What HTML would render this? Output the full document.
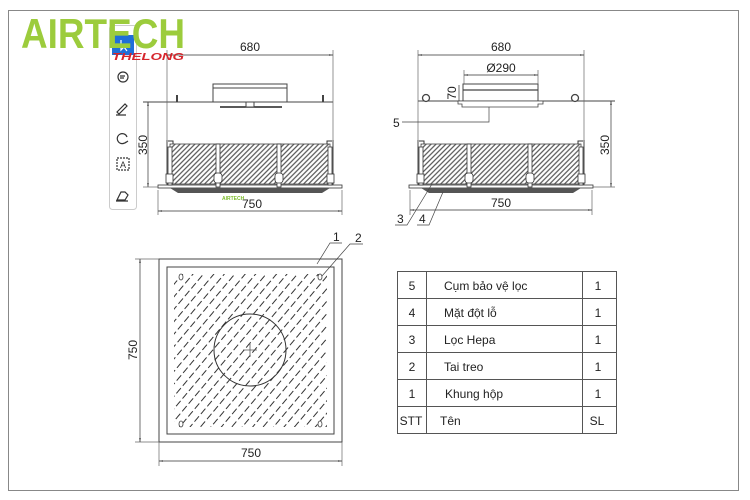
<!DOCTYPE html>
<html><head><meta charset="utf-8"><style>
body{margin:0;background:#fff;}
svg{display:block;font-family:"Liberation Sans",sans-serif;}
.t{font-size:12px;fill:#222;}
</style></head><body>
<svg width="750" height="500" viewBox="0 0 750 500" xmlns="http://www.w3.org/2000/svg">
<defs>
<pattern id="h" width="3.5" height="4" patternUnits="userSpaceOnUse" patternTransform="rotate(45)">
<line x1="1.75" y1="0" x2="1.75" y2="4" stroke="#444" stroke-width="1.1"/>
</pattern>
<pattern id="h2" width="8" height="10" patternUnits="userSpaceOnUse" patternTransform="rotate(40)">
<line x1="4" y1="1" x2="4" y2="8" stroke="#333" stroke-width="1"/>
</pattern>
<marker id="a" viewBox="0 0 10 10" refX="10" refY="5" markerWidth="6" markerHeight="6" orient="auto-start-reverse"><path d="M0,3 L10,5 L0,7z" fill="#333"/></marker>
<g id="body">
<rect x="170" y="144" width="160" height="40" fill="url(#h)" stroke="#444" stroke-width="0.8"/>
<line x1="167" y1="140" x2="167" y2="187" stroke="#444"/>
<line x1="333" y1="140" x2="333" y2="187" stroke="#444"/>
<rect x="158" y="185" width="184" height="3" fill="#fff" stroke="#333" stroke-width="0.8"/>
<path d="M170,188 L330,188 L322,193 L178,193Z" fill="#555"/>
<g fill="#fff" stroke="#333" stroke-width="0.8">
<rect x="168" y="147" width="4" height="38"/><rect x="166" y="174" width="7" height="9"/>
<rect x="328" y="147" width="4" height="38"/><rect x="327" y="174" width="7" height="9"/>
<rect x="216" y="144" width="4" height="43"/><rect x="214" y="173" width="8" height="10" rx="3"/>
<rect x="277" y="144" width="4" height="43"/><rect x="275" y="173" width="8" height="10" rx="3"/>
</g>
<path d="M168,141 h5 v3 M332,141 h-5 v3" fill="none" stroke="#333"/>
</g>
</defs>
<rect x="8.5" y="10.5" width="730" height="480" fill="none" stroke="#888"/>

<!-- left side view -->
<use href="#body"/>
<line x1="143" y1="102" x2="333" y2="102" stroke="#444"/>
<rect x="213" y="84" width="74" height="18" fill="#fff" stroke="#444"/>
<line x1="213" y1="88" x2="287" y2="88" stroke="#444"/>
<line x1="220" y1="107" x2="282" y2="107" stroke="#222" stroke-width="1.4"/>
<rect x="246" y="102" width="8" height="5" fill="#fff" stroke="#444"/>
<path d="M177,102 v-7 M323,102 v-7" stroke="#444" stroke-width="2"/>
<line x1="167" y1="50" x2="167" y2="140" stroke="#666" stroke-width="0.7"/>
<line x1="333" y1="50" x2="333" y2="140" stroke="#666" stroke-width="0.7"/>
<line x1="167" y1="55" x2="333" y2="55" stroke="#333" stroke-width="0.7" marker-start="url(#a)" marker-end="url(#a)"/>
<text class="t" x="250" y="51" text-anchor="middle">680</text>
<line x1="148" y1="102" x2="148" y2="187" stroke="#333" stroke-width="0.7" marker-start="url(#a)" marker-end="url(#a)"/>
<line x1="143" y1="187" x2="158" y2="187" stroke="#666" stroke-width="0.7"/>
<text class="t" transform="translate(147,145) rotate(-90)" text-anchor="middle">350</text>
<line x1="158" y1="190" x2="158" y2="215" stroke="#666" stroke-width="0.7"/>
<line x1="342" y1="190" x2="342" y2="215" stroke="#666" stroke-width="0.7"/>
<line x1="158" y1="211" x2="342" y2="211" stroke="#333" stroke-width="0.7" marker-start="url(#a)" marker-end="url(#a)"/>
<text class="t" x="252" y="208" text-anchor="middle">750</text>
<text x="222" y="200" font-size="5" fill="#7cbb2c" font-weight="bold">AIRTECH</text>

<!-- right side view -->
<use href="#body" transform="translate(251,0)"/>
<line x1="418" y1="101" x2="615" y2="101" stroke="#444"/>
<rect x="463" y="84" width="75" height="17" fill="#fff" stroke="#444"/>
<line x1="463" y1="90" x2="538" y2="90" stroke="#444" stroke-width="1.3"/>
<path d="M458,101 h85 v3 h-5 v3 h-76 v-3 h-4z" fill="#fff" stroke="#444" stroke-width="0.8"/>
<circle cx="426" cy="98" r="3.5" fill="#fff" stroke="#444" stroke-width="1.3"/>
<circle cx="575" cy="98" r="3.5" fill="#fff" stroke="#444" stroke-width="1.3"/>
<line x1="418" y1="50" x2="418" y2="140" stroke="#666" stroke-width="0.7"/>
<line x1="584" y1="50" x2="584" y2="140" stroke="#666" stroke-width="0.7"/>
<line x1="418" y1="55" x2="584" y2="55" stroke="#333" stroke-width="0.7" marker-start="url(#a)" marker-end="url(#a)"/>
<text class="t" x="501" y="51" text-anchor="middle">680</text>
<line x1="464" y1="70" x2="464" y2="84" stroke="#666" stroke-width="0.7"/>
<line x1="538" y1="70" x2="538" y2="84" stroke="#666" stroke-width="0.7"/>
<line x1="464" y1="75" x2="538" y2="75" stroke="#333" stroke-width="0.7" marker-start="url(#a)" marker-end="url(#a)"/>
<text class="t" x="501" y="72" text-anchor="middle">Ø290</text>
<line x1="459" y1="85" x2="459" y2="101" stroke="#333" stroke-width="0.7"/>
<text class="t" transform="translate(456,93) rotate(-90)" text-anchor="middle" font-size="11">70</text>
<line x1="611" y1="101" x2="611" y2="187" stroke="#333" stroke-width="0.7" marker-start="url(#a)" marker-end="url(#a)"/>
<line x1="593" y1="187" x2="615" y2="187" stroke="#666" stroke-width="0.7"/>
<text class="t" transform="translate(609,145) rotate(-90)" text-anchor="middle">350</text>
<line x1="410" y1="190" x2="410" y2="215" stroke="#666" stroke-width="0.7"/>
<line x1="592" y1="190" x2="592" y2="215" stroke="#666" stroke-width="0.7"/>
<line x1="410" y1="210" x2="592" y2="210" stroke="#333" stroke-width="0.7" marker-start="url(#a)" marker-end="url(#a)"/>
<text class="t" x="501" y="207" text-anchor="middle">750</text>
<path d="M489,107 V122 H402" fill="none" stroke="#444" stroke-width="0.7"/>
<text class="t" x="393" y="127">5</text>
<path d="M432,184 L407,225 H395 M443,192 L429,225 H417" fill="none" stroke="#444" stroke-width="0.7"/>
<text class="t" x="397" y="223">3</text>
<text class="t" x="419" y="223">4</text>

<!-- bottom plan view -->
<rect x="159" y="259" width="183" height="183" fill="#fff" stroke="#444"/>
<rect x="167" y="267" width="167" height="167" fill="#fff" stroke="#444"/>
<rect x="174" y="274" width="153" height="153" fill="url(#h2)"/>
<circle cx="250" cy="350" r="36" fill="none" stroke="#333"/>
<path d="M243,350 h14 M250,343 v14" stroke="#555" stroke-width="0.8"/>
<g fill="#fff" stroke="#444" stroke-width="0.8">
<ellipse cx="181" cy="277" rx="2" ry="3"/><ellipse cx="320" cy="277" rx="2" ry="3"/>
<ellipse cx="181" cy="424" rx="2" ry="3"/><ellipse cx="320" cy="424" rx="2" ry="3"/>
</g>
<path d="M317,264 L330,243 H342 M322,276 L350,244 H363" fill="none" stroke="#444" stroke-width="0.7"/>
<text class="t" x="333" y="241">1</text>
<text class="t" x="355" y="242">2</text>
<line x1="135" y1="259" x2="159" y2="259" stroke="#666" stroke-width="0.7"/>
<line x1="135" y1="442" x2="159" y2="442" stroke="#666" stroke-width="0.7"/>
<line x1="140" y1="259" x2="140" y2="442" stroke="#333" stroke-width="0.7" marker-start="url(#a)" marker-end="url(#a)"/>
<text class="t" transform="translate(137,350) rotate(-90)" text-anchor="middle">750</text>
<line x1="159" y1="442" x2="159" y2="466" stroke="#666" stroke-width="0.7"/>
<line x1="342" y1="442" x2="342" y2="466" stroke="#666" stroke-width="0.7"/>
<line x1="159" y1="461" x2="342" y2="461" stroke="#333" stroke-width="0.7" marker-start="url(#a)" marker-end="url(#a)"/>
<text class="t" x="251" y="457" text-anchor="middle">750</text>

<!-- table -->
<g stroke="#555" stroke-width="1" fill="none">
<rect x="397.5" y="271.5" width="219" height="162"/>
<line x1="426.5" y1="271" x2="426.5" y2="434"/>
<line x1="582.5" y1="271" x2="582.5" y2="434"/>
<line x1="397" y1="298.5" x2="617" y2="298.5"/>
<line x1="397" y1="325.5" x2="617" y2="325.5"/>
<line x1="397" y1="352.5" x2="617" y2="352.5"/>
<line x1="397" y1="379.5" x2="617" y2="379.5"/>
<line x1="397" y1="406.5" x2="617" y2="406.5"/>
</g>
<g class="t" font-size="13">
<text x="412" y="290" text-anchor="middle">5</text><text x="444" y="290">Cụm bảo vệ lọc</text><text x="598" y="290" text-anchor="middle">1</text>
<text x="412" y="317" text-anchor="middle">4</text><text x="444" y="317">Mặt đột lỗ</text><text x="598" y="317" text-anchor="middle">1</text>
<text x="412" y="344" text-anchor="middle">3</text><text x="444" y="344">Lọc Hepa</text><text x="598" y="344" text-anchor="middle">1</text>
<text x="412" y="371" text-anchor="middle">2</text><text x="444" y="371">Tai treo</text><text x="598" y="371" text-anchor="middle">1</text>
<text x="412" y="398" text-anchor="middle">1</text><text x="445" y="398">Khung hộp</text><text x="598" y="398" text-anchor="middle">1</text>
<text x="411" y="425" text-anchor="middle">STT</text><text x="440" y="425">Tên</text><text x="597" y="425" text-anchor="middle">SL</text>
</g>

<!-- toolbar -->
<rect x="109.5" y="25.5" width="27" height="184" rx="3" fill="#fff" stroke="#ccc"/>
<rect x="112" y="35" width="22" height="20" fill="#1f6fd8"/>
<path d="M121,40 l0,10 l3,-3 l3,4" fill="none" stroke="#fff" stroke-width="1.2"/>
<g fill="none" stroke="#333" stroke-width="1.2">
<circle cx="123" cy="77" r="5"/><path d="M120,76 h5 M120,78 h4"/>
<path d="M117,112 l8,-8 l2,2 l-8,8z M116,115 h10"/>
<path d="M127,137 a5,5 0 1 0 -1,5 M125,143 l3,-2"/>
<rect x="117" y="158" width="12" height="12" stroke-dasharray="2,1"/>
<path d="M117,200 l4,-8 l4,0 l3,3 l-3,5z M116,201 h12"/>
</g>
<text x="123" y="168" font-size="9" text-anchor="middle" fill="#333">A</text>

<!-- logo -->
<text x="21" y="48" font-size="42" font-weight="bold" fill="#9ccc3c" textLength="164" lengthAdjust="spacingAndGlyphs">AIRTECH</text>
<text x="112" y="60" font-size="10" font-weight="bold" font-style="italic" fill="#d6262c" textLength="72" lengthAdjust="spacingAndGlyphs">THELONG</text>
</svg>
</body></html>
